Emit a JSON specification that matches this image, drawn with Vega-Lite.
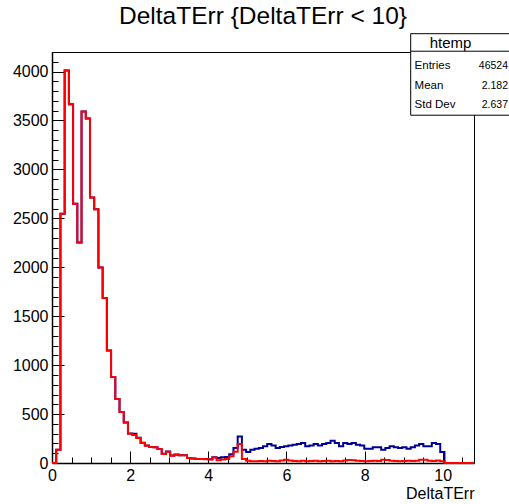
{
  "$schema": "https://vega.github.io/schema/vega-lite/v6.json",
  "width": 422,
  "height": 411,
  "autosize": {"type": "none"},
  "padding": {"left": 52, "top": 52, "right": 35, "bottom": 41},
  "background": "white",
  "config": {
    "font": "Liberation Sans",
    "view": {"stroke": "black", "strokeWidth": 1},
    "axis": {"labelFont": "Liberation Sans", "titleFont": "Liberation Sans", "labelColor": "black", "titleColor": "black", "tickColor": "black", "domainColor": "black", "grid": false}
  },
  "title": {"text": "DeltaTErr {DeltaTErr < 10}", "fontSize": 24.5, "fontWeight": "normal", "font": "Liberation Sans", "color": "black", "anchor": "middle", "frame": "group", "baseline": "alphabetic", "offset": -15},
  "data": {"values": [
    {"lo": 0, "all": 0, "cut": 0},
    {"lo": 0.108, "all": 135, "cut": 135},
    {"lo": 0.216, "all": 2546, "cut": 2546},
    {"lo": 0.324, "all": 4010, "cut": 4010},
    {"lo": 0.432, "all": 3667, "cut": 3667},
    {"lo": 0.54, "all": 2649, "cut": 2649},
    {"lo": 0.648, "all": 2253, "cut": 2253},
    {"lo": 0.756, "all": 3592, "cut": 3592},
    {"lo": 0.864, "all": 3520, "cut": 3520},
    {"lo": 0.972, "all": 2713, "cut": 2713},
    {"lo": 1.08, "all": 2594, "cut": 2594},
    {"lo": 1.188, "all": 1998, "cut": 1998},
    {"lo": 1.296, "all": 1685, "cut": 1685},
    {"lo": 1.404, "all": 1150, "cut": 1150},
    {"lo": 1.512, "all": 878, "cut": 878},
    {"lo": 1.62, "all": 654, "cut": 654},
    {"lo": 1.728, "all": 521, "cut": 521},
    {"lo": 1.836, "all": 415, "cut": 415},
    {"lo": 1.944, "all": 302, "cut": 300},
    {"lo": 2.052, "all": 300, "cut": 285},
    {"lo": 2.16, "all": 258, "cut": 255},
    {"lo": 2.268, "all": 206, "cut": 204},
    {"lo": 2.376, "all": 178, "cut": 177},
    {"lo": 2.484, "all": 163, "cut": 163},
    {"lo": 2.592, "all": 160, "cut": 160},
    {"lo": 2.7, "all": 143, "cut": 143},
    {"lo": 2.808, "all": 95, "cut": 92},
    {"lo": 2.916, "all": 118, "cut": 115},
    {"lo": 3.024, "all": 76, "cut": 75},
    {"lo": 3.132, "all": 86, "cut": 85},
    {"lo": 3.24, "all": 80, "cut": 80},
    {"lo": 3.348, "all": 80, "cut": 80},
    {"lo": 3.456, "all": 50, "cut": 50},
    {"lo": 3.564, "all": 45, "cut": 45},
    {"lo": 3.672, "all": 42, "cut": 40},
    {"lo": 3.78, "all": 40, "cut": 40},
    {"lo": 3.888, "all": 40, "cut": 38},
    {"lo": 3.996, "all": 38, "cut": 35},
    {"lo": 4.104, "all": 60, "cut": 57},
    {"lo": 4.212, "all": 52, "cut": 28},
    {"lo": 4.32, "all": 58, "cut": 35},
    {"lo": 4.428, "all": 62, "cut": 40},
    {"lo": 4.536, "all": 90, "cut": 70},
    {"lo": 4.644, "all": 153, "cut": 115},
    {"lo": 4.752, "all": 272, "cut": 194},
    {"lo": 4.86, "all": 136, "cut": 40},
    {"lo": 4.968, "all": 112, "cut": 22},
    {"lo": 5.076, "all": 136, "cut": 18},
    {"lo": 5.184, "all": 146, "cut": 17},
    {"lo": 5.292, "all": 153, "cut": 20},
    {"lo": 5.4, "all": 170, "cut": 18},
    {"lo": 5.508, "all": 194, "cut": 22},
    {"lo": 5.616, "all": 180, "cut": 20},
    {"lo": 5.724, "all": 153, "cut": 18},
    {"lo": 5.832, "all": 163, "cut": 25},
    {"lo": 5.94, "all": 170, "cut": 32},
    {"lo": 6.048, "all": 180, "cut": 25},
    {"lo": 6.156, "all": 187, "cut": 20},
    {"lo": 6.264, "all": 194, "cut": 18},
    {"lo": 6.372, "all": 204, "cut": 22},
    {"lo": 6.48, "all": 170, "cut": 18},
    {"lo": 6.588, "all": 180, "cut": 20},
    {"lo": 6.696, "all": 194, "cut": 24},
    {"lo": 6.804, "all": 180, "cut": 18},
    {"lo": 6.912, "all": 194, "cut": 20},
    {"lo": 7.02, "all": 204, "cut": 22},
    {"lo": 7.128, "all": 228, "cut": 18},
    {"lo": 7.236, "all": 204, "cut": 20},
    {"lo": 7.344, "all": 170, "cut": 17},
    {"lo": 7.452, "all": 204, "cut": 25},
    {"lo": 7.56, "all": 194, "cut": 30},
    {"lo": 7.668, "all": 204, "cut": 28},
    {"lo": 7.776, "all": 187, "cut": 22},
    {"lo": 7.884, "all": 180, "cut": 20},
    {"lo": 7.992, "all": 146, "cut": 18},
    {"lo": 8.1, "all": 146, "cut": 20},
    {"lo": 8.208, "all": 160, "cut": 22},
    {"lo": 8.316, "all": 160, "cut": 20},
    {"lo": 8.424, "all": 136, "cut": 32},
    {"lo": 8.532, "all": 153, "cut": 30},
    {"lo": 8.64, "all": 170, "cut": 22},
    {"lo": 8.748, "all": 160, "cut": 20},
    {"lo": 8.856, "all": 153, "cut": 18},
    {"lo": 8.964, "all": 160, "cut": 20},
    {"lo": 9.072, "all": 146, "cut": 22},
    {"lo": 9.18, "all": 160, "cut": 20},
    {"lo": 9.288, "all": 180, "cut": 24},
    {"lo": 9.396, "all": 194, "cut": 33},
    {"lo": 9.504, "all": 170, "cut": 34},
    {"lo": 9.612, "all": 170, "cut": 22},
    {"lo": 9.72, "all": 204, "cut": 20},
    {"lo": 9.828, "all": 194, "cut": 26},
    {"lo": 9.936, "all": 112, "cut": 18},
    {"lo": 10.044, "all": 0, "cut": 0},
    {"lo": 10.152, "all": 0, "cut": 0},
    {"lo": 10.26, "all": 0, "cut": 0},
    {"lo": 10.368, "all": 0, "cut": 0},
    {"lo": 10.476, "all": 0, "cut": 0},
    {"lo": 10.584, "all": 0, "cut": 0},
    {"lo": 10.692, "all": 0, "cut": 0},
    {"lo": 10.8, "all": 0, "cut": 0}
  ]},
  "resolve": {"axis": {"x": "independent", "y": "independent"}},
  "layer": [
    {
      "mark": {"type": "line", "interpolate": "step-after", "color": "#000099", "strokeWidth": 2},
      "encoding": {
        "x": {"field": "lo", "type": "quantitative", "scale": {"domain": [0, 10.8], "nice": false, "zero": false},
          "axis": {"orient": "bottom", "values": [0, 2, 4, 6, 8, 10], "format": "d", "tickSize": -12, "tickWidth": 1, "labelFontSize": 16, "labelPadding": 16, "labelFlush": false, "domainWidth": 1.5, "title": "DeltaTErr", "titleFontSize": 16, "titleFontWeight": "normal", "titleAnchor": "end", "titlePadding": 2}},
        "y": {"field": "all", "type": "quantitative", "scale": {"domain": [0, 4200], "nice": false},
          "axis": {"orient": "left", "values": [0, 500, 1000, 1500, 2000, 2500, 3000, 3500, 4000], "format": "d", "tickSize": -12, "tickWidth": 1, "labelFontSize": 16, "labelPadding": 16, "labelFlush": false, "domainWidth": 1.5, "title": null}}
      }
    },
    {
      "mark": {"type": "line", "interpolate": "step-after", "color": "#ff0000", "strokeWidth": 2},
      "encoding": {
        "x": {"field": "lo", "type": "quantitative", "scale": {"domain": [0, 10.8], "nice": false, "zero": false},
          "axis": {"orient": "bottom", "values": [0.5, 1, 1.5, 2.5, 3, 3.5, 4.5, 5, 5.5, 6.5, 7, 7.5, 8.5, 9, 9.5, 10.5], "tickSize": -6, "tickWidth": 1, "labels": false, "domain": false, "title": null}},
        "y": {"field": "cut", "type": "quantitative", "scale": {"domain": [0, 4200], "nice": false},
          "axis": {"orient": "left", "values": [100, 200, 300, 400, 600, 700, 800, 900, 1100, 1200, 1300, 1400, 1600, 1700, 1800, 1900, 2100, 2200, 2300, 2400, 2600, 2700, 2800, 2900, 3100, 3200, 3300, 3400, 3600, 3700, 3800, 3900, 4100], "tickSize": -6, "tickWidth": 1, "labels": false, "domain": false, "title": null}}
      }
    },
    {
      "data": {"values": [{"name": "htemp"}]},
      "mark": {"type": "rect", "fill": "white", "stroke": "black", "strokeWidth": 1},
      "encoding": {
        "x": {"datum": 9.18, "type": "quantitative", "scale": {"domain": [0, 10.8], "nice": false, "zero": false}, "axis": null},
        "x2": {"datum": 11.9},
        "y": {"datum": 4387, "type": "quantitative", "scale": {"domain": [0, 4200], "nice": false}, "axis": null},
        "y2": {"datum": 3554}
      }
    },
    {
      "data": {"values": [{"name": "htemp"}]},
      "mark": {"type": "rule", "color": "black", "strokeWidth": 1},
      "encoding": {
        "x": {"datum": 9.18, "type": "quantitative", "scale": {"domain": [0, 10.8], "nice": false, "zero": false}, "axis": null},
        "x2": {"datum": 11.9},
        "y": {"datum": 4208, "type": "quantitative", "scale": {"domain": [0, 4200], "nice": false}, "axis": null}
      }
    },
    {
      "data": {"values": [{"name": "htemp"}]},
      "mark": {"type": "text", "fontSize": 15, "align": "center", "baseline": "alphabetic", "color": "black"},
      "encoding": {
        "text": {"field": "name"},
        "x": {"datum": 10.2, "type": "quantitative", "scale": {"domain": [0, 10.8], "nice": false, "zero": false}, "axis": null},
        "y": {"datum": 4241, "type": "quantitative", "scale": {"domain": [0, 4200], "nice": false}, "axis": null}
      }
    },
    {
      "data": {"values": [
        {"label": "Entries", "value": "46524", "row": 4030},
        {"label": "Mean", "value": "2.182", "row": 3825},
        {"label": "Std Dev", "value": "2.637", "row": 3628}
      ]},
      "mark": {"type": "text", "fontSize": 11.5, "align": "left", "baseline": "alphabetic", "color": "black"},
      "encoding": {
        "text": {"field": "label"},
        "x": {"datum": 9.28, "type": "quantitative", "scale": {"domain": [0, 10.8], "nice": false, "zero": false}, "axis": null},
        "y": {"field": "row", "type": "quantitative", "scale": {"domain": [0, 4200], "nice": false}, "axis": null}
      }
    },
    {
      "data": {"values": [
        {"label": "Entries", "value": "46524", "row": 4030},
        {"label": "Mean", "value": "2.182", "row": 3825},
        {"label": "Std Dev", "value": "2.637", "row": 3628}
      ]},
      "mark": {"type": "text", "fontSize": 10.5, "align": "right", "baseline": "alphabetic", "color": "black"},
      "encoding": {
        "text": {"field": "value"},
        "x": {"datum": 11.67, "type": "quantitative", "scale": {"domain": [0, 10.8], "nice": false, "zero": false}, "axis": null},
        "y": {"field": "row", "type": "quantitative", "scale": {"domain": [0, 4200], "nice": false}, "axis": null}
      }
    }
  ]
}
